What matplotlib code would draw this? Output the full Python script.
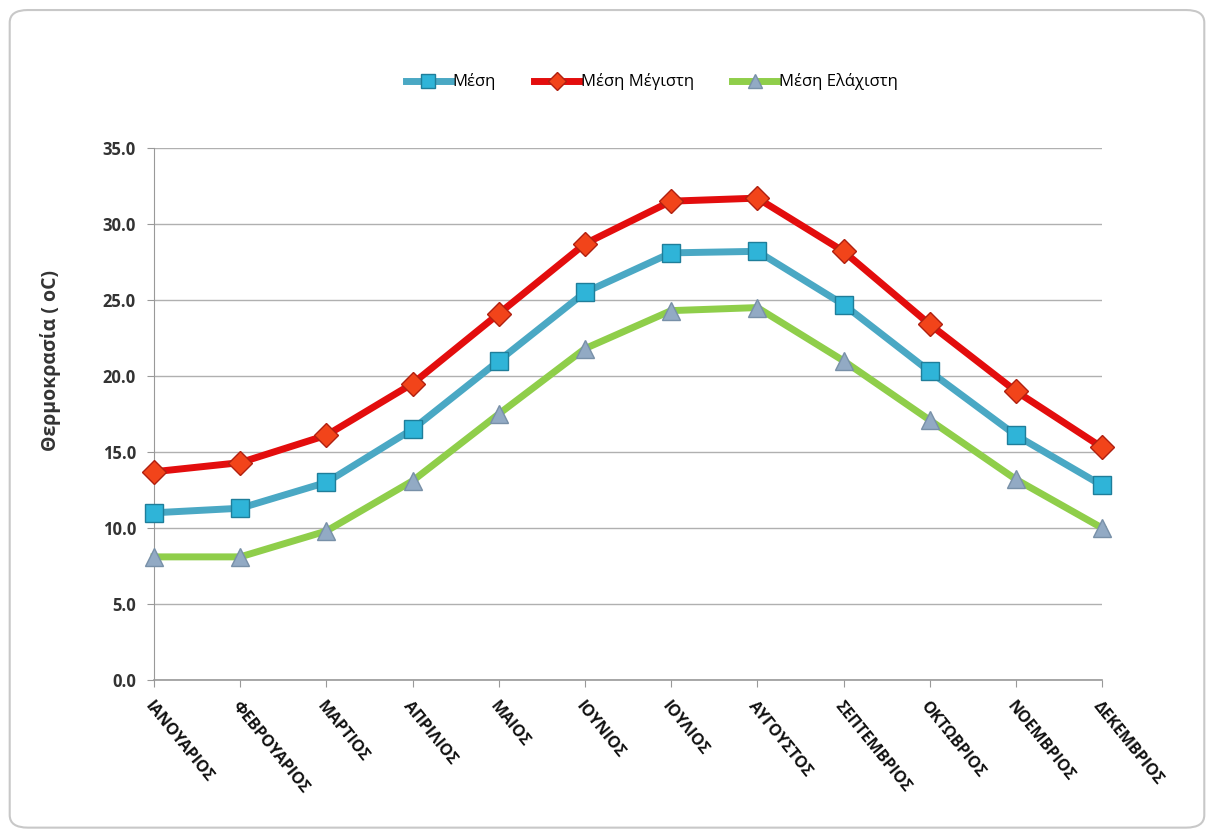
import matplotlib
matplotlib.use("Agg")
import matplotlib.pyplot as plt
from matplotlib.patches import FancyBboxPatch

months = ["ΙΑΝΟΥΑΡΙΟΣ", "ΦΕΒΡΟΥΑΡΙΟΣ", "ΜΑΡΤΙΟΣ", "ΑΠΡΙΛΙΟΣ", "ΜΑΙΟΣ", "ΙΟΥΝΙΟΣ",
          "ΙΟΥΛΙΟΣ", "ΑΥΓΟΥΣΤΟΣ", "ΣΕΠΤΕΜΒΡΙΟΣ", "ΟΚΤΩΒΡΙΟΣ", "ΝΟΕΜΒΡΙΟΣ", "ΔΕΚΕΜΒΡΙΟΣ"]
mean_t = [11.0, 11.3, 13.0, 16.5, 21.0, 25.5, 28.1, 28.2, 24.7, 20.3, 16.1, 12.8]
max_t = [13.7, 14.3, 16.1, 19.5, 24.1, 28.7, 31.5, 31.7, 28.2, 23.4, 19.0, 15.3]
min_t = [8.1, 8.1, 9.8, 13.1, 17.5, 21.8, 24.3, 24.5, 21.0, 17.1, 13.2, 10.0]
series_names = ["Μέση", "Μέση Μέγιστη", "Μέση Ελάχιστη"]
yticks = [0, 5, 10, 15, 20, 25, 30, 35]
ylabel = "Θερμοκρασία ( oC)"

plt.rcParams['font.family'] = ['Open Sans', 'DejaVu Sans']

fig = plt.figure(figsize=(12.14, 8.36), dpi=100)
fig.patch.set_facecolor("white")
border = FancyBboxPatch((0.008, 0.01), 0.984, 0.978, boxstyle="round,pad=0,rounding_size=0.015",
                        transform=fig.transFigure, facecolor="white", edgecolor="#c8c8c8",
                        linewidth=1.5, zorder=-10)
fig.add_artist(border)

ax = fig.add_axes([0.1269, 0.1866, 0.7809, 0.6364])
ax.set_zorder(1)
ax.set_facecolor("none")
x = list(range(len(months)))

ax.plot(x, mean_t, color="#4aa8c4", linewidth=5, marker="s", markersize=13,
        markerfacecolor="#2fb4d8", markeredgecolor="#1f7e9a", markeredgewidth=1,
        label=series_names[0], zorder=3, clip_on=False)
ax.plot(x, max_t, color="#e30d0d", linewidth=5, marker="D", markersize=12,
        markerfacecolor="#f2441a", markeredgecolor="#b02010", markeredgewidth=1,
        label=series_names[1], zorder=3, clip_on=False)
ax.plot(x, min_t, color="#8fce4a", linewidth=5, marker="^", markersize=13,
        markerfacecolor="#92aac4", markeredgecolor="#7890a8", markeredgewidth=1,
        label=series_names[2], zorder=3, clip_on=False)

ax.set_xlim(0, len(months) - 1)
ax.set_ylim(0, 35)
ax.set_yticks(yticks)
ax.set_yticklabels([f"{v:.1f}" for v in yticks], fontsize=12, fontweight="bold", color="#333333")
ax.set_xticks(x)
ax.set_xticklabels(months, rotation=-51, ha="left", va="top", rotation_mode="anchor",
                   fontsize=11.5, fontweight="bold", color="#111111")
ax.tick_params(axis="x", length=5, color="#999999", pad=8)
ax.tick_params(axis="y", length=5, color="#999999", pad=8)
ax.grid(axis="y", color="#b0b0b0", linewidth=1)
ax.set_axisbelow(True)
for s in ["top", "right"]:
    ax.spines[s].set_visible(False)
ax.spines["left"].set_color("#999999")
ax.spines["bottom"].set_color("#999999")
ax.spines["bottom"].set_linewidth(1.2)

ax.set_ylabel(ylabel, fontsize=14, fontweight="bold", color="#333333")
ax.yaxis.set_label_coords(-0.098, 0.60)

fig.legend(loc="center", bbox_to_anchor=(0.537, 0.902), ncol=3, frameon=False,
           fontsize=12, handlelength=2.7, columnspacing=2.3, handletextpad=0.1,
           markerscale=0.75)

fig.savefig("out.png", dpi=100)
